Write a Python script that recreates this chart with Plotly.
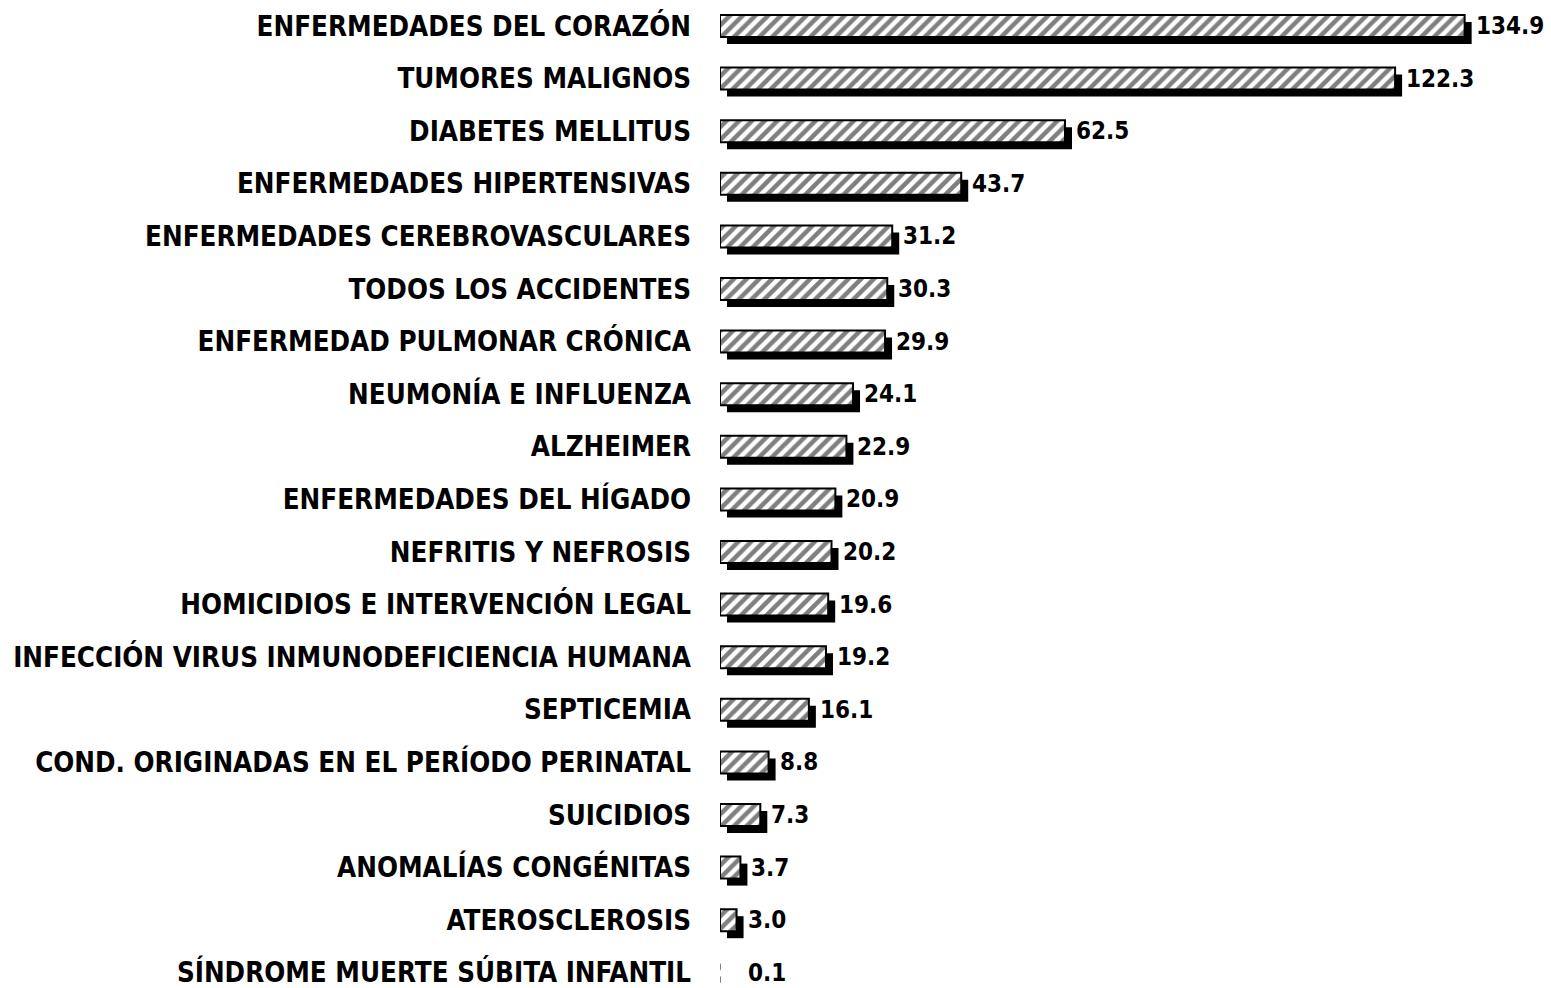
import plotly.graph_objects as go

categories = [
    "ENFERMEDADES DEL CORAZÓN",
    "TUMORES MALIGNOS",
    "DIABETES MELLITUS",
    "ENFERMEDADES HIPERTENSIVAS",
    "ENFERMEDADES CEREBROVASCULARES",
    "TODOS LOS ACCIDENTES",
    "ENFERMEDAD PULMONAR CRÓNICA",
    "NEUMONÍA E INFLUENZA",
    "ALZHEIMER",
    "ENFERMEDADES DEL HÍGADO",
    "NEFRITIS Y NEFROSIS",
    "HOMICIDIOS E INTERVENCIÓN LEGAL",
    "INFECCIÓN VIRUS INMUNODEFICIENCIA HUMANA",
    "SEPTICEMIA",
    "COND. ORIGINADAS EN EL PERÍODO PERINATAL",
    "SUICIDIOS",
    "ANOMALÍAS CONGÉNITAS",
    "ATEROSCLEROSIS",
    "SÍNDROME MUERTE SÚBITA INFANTIL",
]
values = [134.9, 122.3, 62.5, 43.7, 31.2, 30.3, 29.9, 24.1, 22.9, 20.9,
          20.2, 19.6, 19.2, 16.1, 8.8, 7.3, 3.7, 3.0, 0.1]
value_labels = [f"{v:.1f}" for v in values]

ypos = list(range(len(categories)))

FONT = "Liberation Sans Narrow, Arial Narrow, DejaVu Sans Condensed, sans-serif"
PX_PER_UNIT = 5.52
ROW_PX = 52.6
BAR_W = 22 / ROW_PX
SHADOW_DY = 7 / ROW_PX
SHADOW_DX = 7 / PX_PER_UNIT

# bars thinner than one pixel are not visible in the original print
outline_w = [2 if v * PX_PER_UNIT >= 1 else 0 for v in values]
shadow_col = ["black" if v * PX_PER_UNIT >= 1 else "rgba(0,0,0,0)" for v in values]

fig = go.Figure()

# shadow
fig.add_trace(go.Bar(
    y=ypos, x=values, base=[SHADOW_DX] * len(values), orientation="h",
    width=BAR_W, offset=-BAR_W / 2 + SHADOW_DY,
    marker=dict(color=shadow_col, line=dict(width=0)),
    hoverinfo="skip", showlegend=False,
))
# main hatched bars
fig.add_trace(go.Bar(
    y=ypos, x=values, orientation="h",
    width=BAR_W, offset=-BAR_W / 2,
    marker=dict(
        color="white",
        line=dict(color="black", width=outline_w),
        pattern=dict(shape="/", fgcolor="black", bgcolor="white",
                     size=9, solidity=0.5, fillmode="overlay"),
    ),
    showlegend=False,
))

for y, v, t in zip(ypos, values, value_labels):
    fig.add_annotation(
        x=max(v, 3.0), y=y, text=t, showarrow=False,
        xanchor="left", yanchor="middle", xshift=9,
        font=dict(family=FONT, size=24, color="black", weight="bold"),
    )

xmax = (1551 - 720) / PX_PER_UNIT
fig.update_layout(
    width=1551, height=988,
    margin=dict(l=720, r=0, t=0, b=0),
    paper_bgcolor="white", plot_bgcolor="white",
    barmode="overlay",
    xaxis=dict(range=[0, xmax], visible=False, fixedrange=True),
    yaxis=dict(
        range=[(988 - 26) / ROW_PX, -26 / ROW_PX],
        tickvals=ypos, ticktext=categories,
        showgrid=False, zeroline=False, showline=False, ticks="",
        ticklabelstandoff=28, ticklabeloverflow="allow",
        tickfont=dict(family=FONT, size=27.5, color="black", weight="bold"),
        fixedrange=True,
    ),
)

fig.write_html(
    "out.html",
    config={"displayModeBar": False},
    post_script="document.body.style.margin='0';document.body.style.overflow='hidden';",
)
